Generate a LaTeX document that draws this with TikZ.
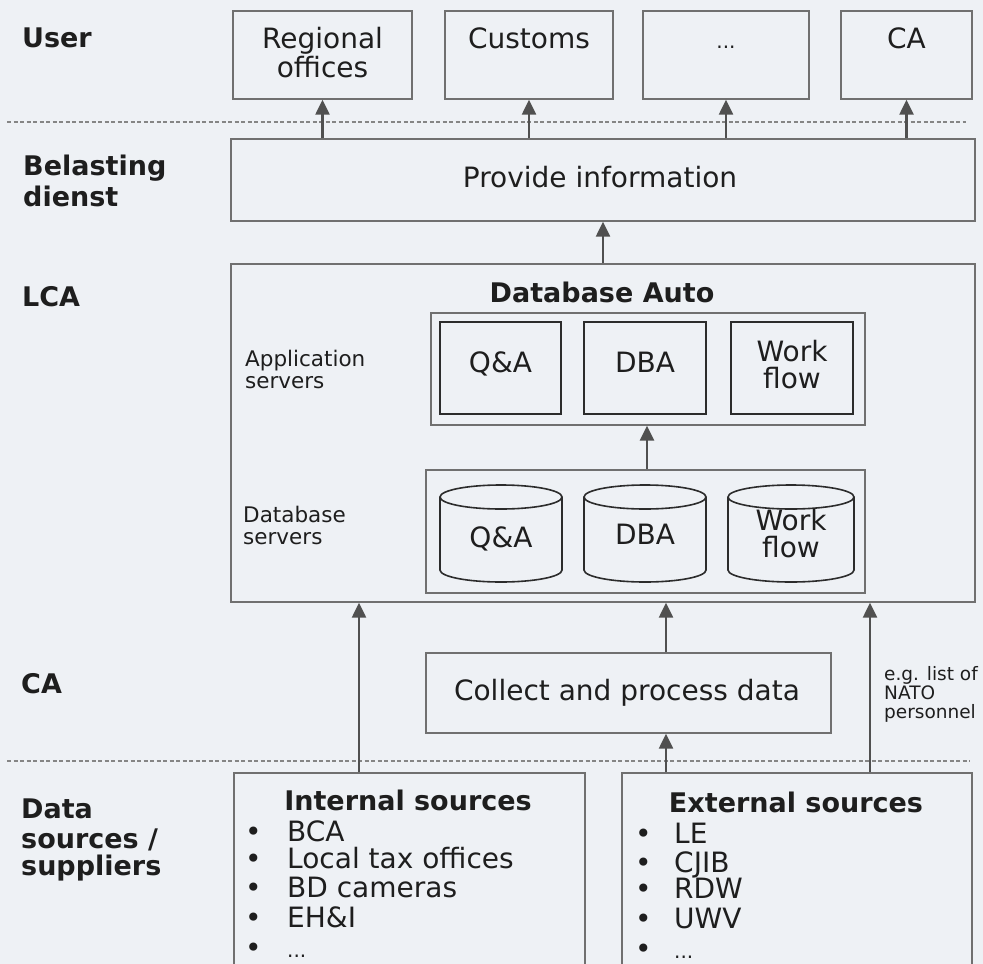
\documentclass[tikz,border=0pt]{standalone}
\usepackage{fontspec}
\setmainfont{DejaVu Sans}
\usetikzlibrary{arrows.meta}
\definecolor{bg}{HTML}{EEF1F5}
\definecolor{ln}{HTML}{707070}
\definecolor{dk}{HTML}{2C2C2C}
\definecolor{tx}{HTML}{1E1E1E}
\definecolor{ar}{HTML}{505050}
\newcommand{\mydots}{{\fontsize{20}{22}\selectfont ...}}
\begin{document}
\begin{tikzpicture}[x=1pt,y=-1pt,
  box/.style={draw=ln, line width=1.4pt, rectangle, inner sep=0pt},
  appbox/.style={draw=dk, line width=2.2pt, rectangle, inner sep=0pt},
  cyl/.style={draw=dk, line width=1.6pt},
  txt/.style={font=\fontsize{28}{30}\selectfont, text=tx, inner sep=0pt, anchor=base},
  btxt/.style={font=\bfseries\fontsize{27}{30}\selectfont, text=tx, inner sep=0pt, anchor=base},
  lbl/.style={font=\bfseries\fontsize{27}{30}\selectfont, text=tx, inner sep=0pt, anchor=base west},
  item/.style={font=\fontsize{28}{30}\selectfont, text=tx, inner sep=0pt, anchor=base west},
  small/.style={font=\fontsize{21.5}{23}\selectfont, text=tx, inner sep=0pt, anchor=base west},
  tiny/.style={font=\fontsize{18.5}{19}\selectfont, text=tx, inner sep=0pt, anchor=base west},
  arr/.style={draw=ar, line width=2.4pt, -{Triangle[length=15pt,width=14pt]}},
  sep/.style={draw=ln!85, line width=1.4pt, dash pattern=on 4pt off 2.5pt},
]
\fill[bg] (0,0) rectangle (983,964);
\clip (0,0) rectangle (983,964);

% separators
\coordinate (s1a) at (7,122);  \coordinate (s1b) at (966,122);
\coordinate (s2a) at (7,761);  \coordinate (s2b) at (970,761);
\draw[sep] (s1a) -- (s1b);
\draw[sep] (s2a) -- (s2b);

% left labels
\node[lbl] (lUser) at (22,47) {User};
\node[lbl] (lBel1) at (23,175) {Belasting};
\node[lbl] (lBel2) at (23,206) {dienst};
\node[lbl] (lLCA) at (22,306) {LCA};
\node[lbl] (lCA) at (21,693) {CA};
\node[lbl] (lDS1) at (21,818) {Data};
\node[lbl] (lDS2) at (21,848) {sources /};
\node[lbl] (lDS3) at (21,875) {suppliers};

% user boxes
\node[box, minimum width=179pt, minimum height=88pt] (ro) at (322.5,55) {};
\node[box, minimum width=168pt, minimum height=88pt] (cu) at (529,55) {};
\node[box, minimum width=166pt, minimum height=88pt] (dots) at (726,55) {};
\node[box, minimum width=131pt, minimum height=88pt] (ca) at (906.5,55) {};
\node[txt] (roT1) at (322.5,48) {Regional};
\node[txt] (roT2) at (322.5,77) {offices};
\node[txt] (cuT) at (529,48) {Customs};
\node[txt] (dotsT) at (726,48) {\mydots};
\node[txt] (caT) at (906.5,48) {CA};

% provide information
\node[box, minimum width=744pt, minimum height=82pt] (pi) at (603,180) {};
\node[txt] (piT) at (600,187) {Provide information};

\draw[arr] (pi.north -| ro.south) -- (ro.south);
\draw[arr] (pi.north -| cu.south) -- (cu.south);
\draw[arr] (pi.north -| dots.south) -- (dots.south);
\draw[arr] (pi.north -| ca.south) -- (ca.south);

% LCA big box
\node[box, minimum width=744pt, minimum height=338pt] (lca) at (603,433) {};
\draw[arr] (lca.north) -- (pi.south);
\node[btxt] (dbauto) at (602,302) {Database Auto};

% application servers
\node[box, line width=1.3pt, minimum width=434pt, minimum height=112pt] (appo) at (648,369) {};
\node[appbox, minimum width=121pt, minimum height=92pt] (a1) at (500.5,368) {};
\node[appbox, minimum width=122pt, minimum height=92pt] (a2) at (645,368) {};
\node[appbox, minimum width=122pt, minimum height=92pt] (a3) at (792,368) {};
\node[txt] (a1T) at (500.5,372) {Q\&A};
\node[txt] (a2T) at (645,372) {DBA};
\node[txt] (a3T1) at (792,361) {Work};
\node[txt] (a3T2) at (792,388) {flow};
\node[small] (apT1) at (245,366) {Application};
\node[small] (apT2) at (245,388) {servers};

% database servers
\node[box, line width=1.3pt, minimum width=439pt, minimum height=123pt] (dbo) at (645.5,531.5) {};
\draw[arr] (dbo.north -| 647,0) -- (appo.south -| 647,0);
\node[small] (dsT1) at (243,522) {Database};
\node[small] (dsT2) at (243,544) {servers};

\foreach \L/\R in {440/562, 584/706, 728/854}{
  \pgfmathsetmacro{\cx}{(\L+\R)/2}
  \pgfmathsetmacro{\rx}{(\R-\L)/2}
  \draw[cyl] (\cx,497) ellipse [x radius=\rx, y radius=12];
  \draw[cyl] (\L,497) -- (\L,570) arc[start angle=180, end angle=360, x radius=\rx, y radius=-12] -- (\R,497);
}
\node[txt] (c1T) at (501,547) {Q\&A};
\node[txt] (c2T) at (645,544) {DBA};
\node[txt] (c3T1) at (791,530) {Work};
\node[txt] (c3T2) at (791,557) {flow};

% collect and process
\node[box, minimum width=405pt, minimum height=80pt] (col) at (628.5,693) {};
\node[txt] (colT) at (627,700) {Collect and process data};

% sources
\node[box, minimum width=351pt, minimum height=230pt] (int) at (409.5,888) {};
\node[box, minimum width=350pt, minimum height=230pt] (ext) at (797,888) {};
\node[btxt] (intT) at (408,810) {Internal sources};
\node[btxt] (extT) at (796,812) {External sources};

\foreach \n/\y/\t in {1/841/BCA, 2/868/Local tax offices, 3/897/BD cameras, 4/927/EH\&I, 5/957/\mydots}{
  \node[item] (ib\n) at (245,\y) {•};
  \node[item] (it\n) at (287,\y) {\t};
}
\foreach \n/\y/\t in {1/843/LE, 2/872/CJIB, 3/898/RDW, 4/928/UWV, 5/958/\mydots}{
  \node[item] (eb\n) at (635,\y) {•};
  \node[item] (et\n) at (674,\y) {\t};
}

\node[tiny] (eg1) at (884,680) {e.g. list of};
\node[tiny] (eg2) at (884,699) {NATO};
\node[tiny] (eg3) at (884,718) {personnel};

% arrows into LCA
\coordinate (lcaL) at (lca.south -| 359,0);
\draw[arr] (int.north -| 359,0) -- (lcaL);
\draw[arr] (col.north -| 666,0) -- (lca.south -| 666,0);
\draw[arr] (ext.north -| 666,0) -- (col.south -| 666,0);
\draw[arr] (ext.north -| 870,0) -- (lca.south -| 870,0);
\end{tikzpicture}
\end{document}
